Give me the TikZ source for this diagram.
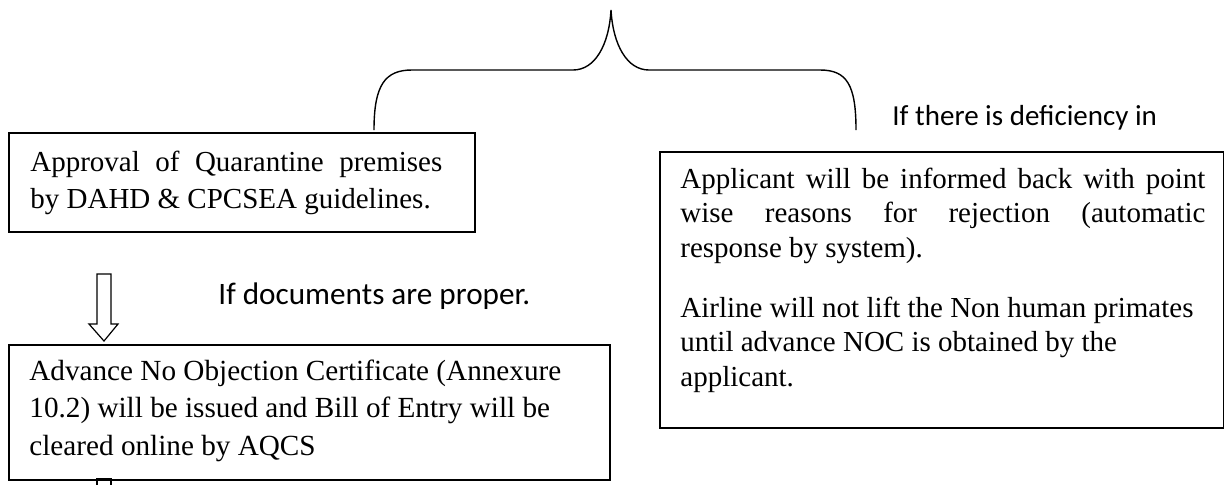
\documentclass[tikz,border=0pt]{standalone}
\usepackage{fontspec}
\setmainfont{Liberation Serif}
\newfontfamily\calibri{Carlito}
\begin{document}
\begin{tikzpicture}[x=0.5pt,y=-0.5pt,
  box/.style={draw, line width=0.8pt, inner sep=0pt, anchor=north west},
  txt/.style={inner sep=0pt, anchor=base west},
  lbl/.style={inner sep=0pt, anchor=base west, font=\calibri\fontsize{14.5}{17}\selectfont},
  bracestyle/.style={line width=0.7pt},
  blockarrow/.style={draw, line width=0.6pt, line join=miter}]
\useasboundingbox (0,0) rectangle (1224,484);

% boxes
\node[box, minimum width=233pt, minimum height=49.5pt] (b1) at (8,132) {};
\node[box, minimum width=300.5pt, minimum height=67.5pt] (b2) at (8,344) {};
\node[box, minimum width=282pt, minimum height=138pt] (b3) at (659,151) {};

% texts
\node[txt, font=\fontsize{14.5}{18.75}\selectfont] (t1) at (30,171)
  {\parbox[t]{206pt}{\makebox[206pt][s]{Approval of Quarantine premises}\\
   by DAHD \& CPCSEA guidelines.}};
\node[txt, font=\fontsize{14.6}{18.75}\selectfont] (t2) at (29,380)
  {\parbox[t]{290pt}{Advance No Objection Certificate (Annexure\\
   10.2) will be issued and Bill of Entry will be\\
   cleared online by AQCS}};
\node[txt, font=\fontsize{14.5}{17.25}\selectfont] (t3) at (680,188)
  {\parbox[t]{262.5pt}{\makebox[262.5pt][s]{Applicant will be informed back with point}\\
   \makebox[262.5pt][s]{wise reasons for rejection (automatic}\\
   response by system).\\[12.75pt]
   Airline will not lift the Non human primates\\
   until advance NOC is obtained by the\\
   applicant.}};

% labels
\node[lbl, font=\calibri\fontsize{15.6}{18}\selectfont] (l1) at (218,304) {If documents are proper.};
\node[lbl] (l2) at (892,125) {If there is deficiency in};

% brace
\coordinate (bl) at (374,130);
\coordinate (bt) at (611,10);
\coordinate (br) at (856,130);
\draw[bracestyle] (bl) .. controls (374,85) and (385,70) .. (412,70) -- (573,70)
  .. controls (595,70) and (609,45) .. (bt)
  .. controls (613,45) and (627,70) .. (649,70) -- (820,70)
  .. controls (847,70) and (856,85) .. (br);

% block arrow between boxes
\draw[blockarrow] (97,274) -- (111,274) -- (111,324) -- (118,324) -- (104,341)
  -- (89,324) -- (97,324) -- cycle;
% stub of next arrow below box 2
\draw[blockarrow] (97,492) -- (97,479) -- (111,479) -- (111,492);
\end{tikzpicture}
\end{document}
